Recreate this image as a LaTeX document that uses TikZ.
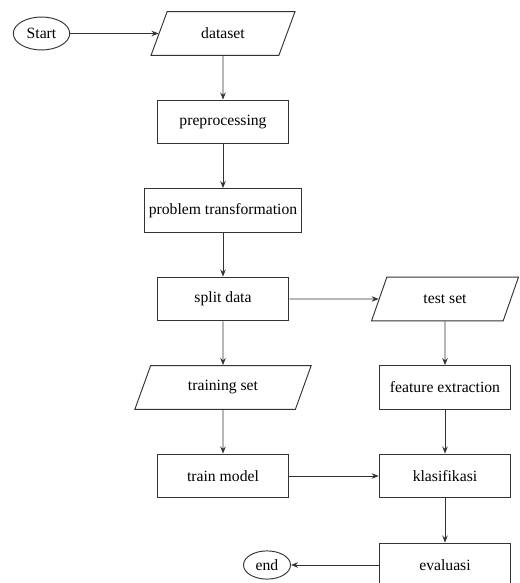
\documentclass[tikz,border=0pt]{standalone}
\usepackage{fontspec}
\setmainfont{Liberation Serif}
\usetikzlibrary{shapes.geometric,arrows.meta}

\tikzset{
    startstop/.style={ellipse, draw=black!80, line width=0.6pt, inner sep=1pt, minimum width=36pt, minimum height=21pt},
    process/.style={rectangle, draw=black!80, line width=0.6pt, minimum width=84pt, minimum height=28pt, inner sep=3pt},
    io/.style={trapezium, trapezium left angle=70, trapezium right angle=110, trapezium stretches=true,
               draw=black!80, line width=0.6pt, minimum height=28pt},
    flowline/.style={draw=black!80, line width=0.6pt, -{Stealth[length=4.5pt,width=3.5pt]}}
}

\begin{document}
\begin{tikzpicture}[x=0.638pt, y=-0.638pt, font=\fontsize{10pt}{12pt}\selectfont]
                \useasboundingbox (0,0) rectangle (519,583);
                % left column
                \node[startstop] (start) at (41.5,33.5) {Start};
                \node[io, minimum width=92pt] (dataset) at (223,33.5) {dataset};
                \node[process] (prepro) at (223,122) {preprocessing};
                \node[process] (probtrans) at (223,210.5) {problem transformation};
                \node[process] (split) at (223,299) {split data};
                \node[io, minimum width=113pt] (trainset) at (223,387.5) {training set};
                \node[process] (train) at (223,476) {train model};
                % right column
                \node[io, minimum width=94pt] (testset) at (445,299) {test set};
                \node[process] (featext) at (445,387.5) {feature extraction};
                \node[process] (klasifikasi) at (445,476) {klasifikasi};
                \node[process] (evaluasi) at (445,565) {evaluasi};
                \node[startstop, minimum width=30pt, minimum height=18pt] (end) at (267,565) {end};

                \draw[flowline] (start) -- (dataset);
                \draw[flowline] (dataset) -- (prepro);
                \draw[flowline] (prepro) -- (probtrans);
                \draw[flowline] (probtrans) -- (split);
                \draw[flowline] (split) -- (testset);
                \draw[flowline] (split) -- (trainset);
                \draw[flowline] (trainset) -- (train);
                \draw[flowline] (testset) -- (featext);
                \draw[flowline] (featext) -- (klasifikasi);
                \draw[flowline] (train) -- (klasifikasi);
                \draw[flowline] (klasifikasi) -- (evaluasi);
                \draw[flowline] (evaluasi) -- (end);
\end{tikzpicture}
\end{document}
